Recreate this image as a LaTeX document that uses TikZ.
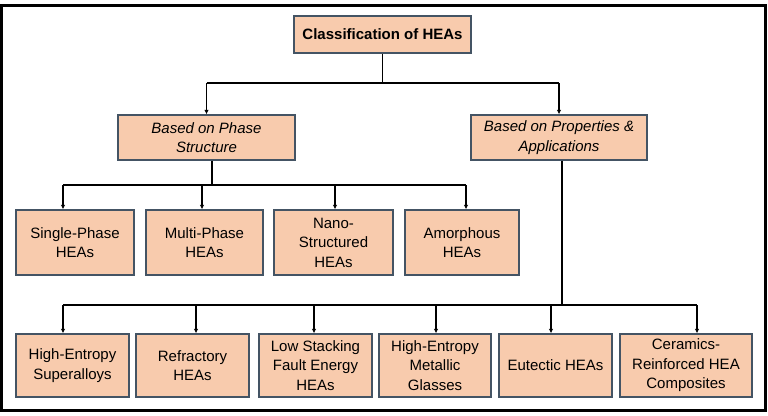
\documentclass[tikz,border=0pt]{standalone}
\usepackage{fontspec}
\setmainfont{Liberation Sans}
\usetikzlibrary{arrows.meta,calc}
\definecolor{boxfill}{HTML}{F8CBAD}
\definecolor{boxline}{RGB}{68,84,100}
\begin{document}
\begin{tikzpicture}[x=1pt,y=-1pt,
  box/.style={draw=boxline,fill=boxfill,line width=1.3pt,inner sep=0pt,align=center,
    font=\fontsize{15}{19.5}\selectfont},
  conn/.style={line width=1.4pt,black},
  arr/.style={conn,-{Latex[length=4.5pt,width=4.5pt]}}]
\useasboundingbox (0,0) rectangle (768,415);
\draw[line width=3pt] (1.5,5) rectangle (765.5,410.5);

\node[box,minimum width=177pt,minimum height=37pt,font=\fontsize{15}{19.5}\selectfont\bfseries] (ti) at (382.5,34.5) {Classification of HEAs};
\node[box,minimum width=177pt,minimum height=45pt,font=\fontsize{15}{19.5}\selectfont\itshape] (ph) at (206.5,137.5) {Based on Phase\\Structure};
\node[box,minimum width=176pt,minimum height=45pt,font=\fontsize{15}{19.5}\selectfont\itshape] (pr) at (559,137.5) {Based on Properties \&\\Applications};

\node[box,minimum width=118pt,minimum height=65pt] (s1) at (75,242.5) {Single-Phase\\HEAs};
\node[box,minimum width=117pt,minimum height=65pt] (s2) at (204.5,242.5) {Multi-Phase\\HEAs};
\node[box,minimum width=119pt,minimum height=65pt] (s3) at (333.5,242.5) {Nano-\\Structured\\HEAs};
\node[box,minimum width=114pt,minimum height=65pt] (s4) at (462,242.5) {Amorphous\\HEAs};

\node[box,minimum width=113pt,minimum height=63pt] (p1) at (72.5,365.5) {High-Entropy\\Superalloys};
\node[box,minimum width=113pt,minimum height=63pt] (p2) at (192.5,365.5) {Refractory\\HEAs};
\node[box,minimum width=113pt,minimum height=63pt] (p3) at (315.5,365.5) {Low Stacking\\Fault Energy\\HEAs};
\node[box,minimum width=112pt,minimum height=63pt] (p4) at (435,365.5) {High-Entropy\\Metallic\\Glasses};
\node[box,minimum width=113pt,minimum height=63pt] (p5) at (555.5,365.5) {Eutectic HEAs};
\node[box,minimum width=132pt,minimum height=63pt] (p6) at (686,365.5) {Ceramics-\\Reinforced HEA\\Composites};

\coordinate (b0) at (0,83);
\coordinate (b1) at (0,185);
\coordinate (b2) at (0,305);

% top level
\draw[conn] (ti.south) -- (ti.south |- b0);
\draw[conn] (ph.north |- b0) -- (pr.north |- b0);
\draw[arr] (ph.north |- b0) -- (ph.north);
\draw[arr] (pr.north |- b0) -- (pr.north);

% phase structure
\draw[conn] ([xshift=5.5pt]ph.south) -- ([xshift=5.5pt]ph.south |- b1);
\draw[conn] ([xshift=-12pt]s1.north |- b1) -- ([xshift=4pt]s4.north |- b1);
\foreach \n/\d in {s1/-12,s2/-2.5,s3/1.5,s4/4}
  \draw[arr] ([xshift=\d pt]\n.north |- b1) -- ([xshift=\d pt]\n.north);

% properties
\draw[conn] ([xshift=3pt]pr.south) -- ([xshift=3pt]pr.south |- b2);
\draw[conn] ([xshift=-9.5pt]p1.north |- b2) -- ([xshift=11pt]p6.north |- b2);
\foreach \n/\d in {p1/-9.5,p2/3.5,p3/-1.5,p4/1,p5/-4.5,p6/11}
  \draw[arr] ([xshift=\d pt]\n.north |- b2) -- ([xshift=\d pt]\n.north);
\end{tikzpicture}
\end{document}
